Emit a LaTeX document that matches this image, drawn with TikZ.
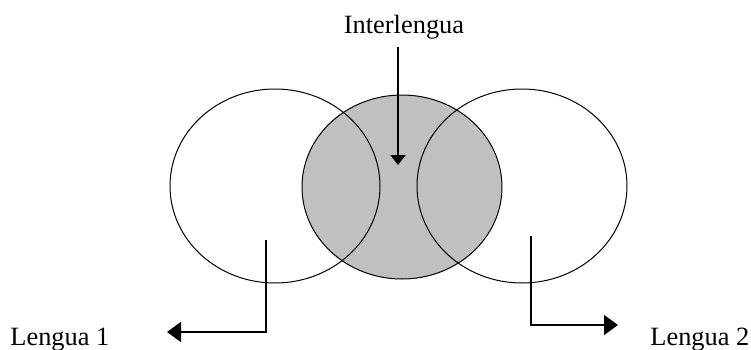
\documentclass[tikz,border=0pt]{standalone}
\usepackage{fontspec}
\setmainfont{Liberation Serif}
\usetikzlibrary{shapes.geometric,arrows.meta}
\definecolor{interfill}{HTML}{C0C0C0}

\begin{document}
\begin{tikzpicture}[x=0.5pt, y=-0.5pt,
  lang/.style={ellipse, draw, line width=0.5pt, inner sep=0pt},
  conn/.style={-{Triangle[length=7pt, width=10pt]}, line width=0.8pt},
  lbl/.style={font=\fontsize{13.2}{15}\selectfont, inner sep=0pt}]
  \useasboundingbox (0,0) rectangle (751,349);

  % Interlengua (filled, below the outlines)
  \node[lang, fill=interfill, minimum width=100pt, minimum height=92pt] (il) at (402,187) {};

  % Lengua 1 and Lengua 2
  \node[lang, minimum width=105pt, minimum height=97pt] (l1) at (275,186) {};
  \node[lang, minimum width=105pt, minimum height=97pt] (l2) at (522,186) {};

  % Labels
  \node[lbl, anchor=base] (tinter) at (404,33) {Interlengua};
  \node[lbl, anchor=base west] (tl1) at (10,345) {Lengua 1};
  \node[lbl, anchor=base west] (tl2) at (650,345) {Lengua 2};

  % Connectors
  \coordinate (inTop) at (398,47);
  \coordinate (inTip) at (398,165);
  \draw[conn, -{Triangle[length=5pt, width=7.5pt]}] (inTop) -- (inTip);

  \coordinate (l1From) at (266,240);
  \coordinate (l1Tip) at (167,332);
  \draw[conn] (l1From) |- (l1Tip);

  \coordinate (l2From) at (531,236);
  \coordinate (l2Tip) at (618,325);
  \draw[conn] (l2From) |- (l2Tip);
\end{tikzpicture}
\end{document}
